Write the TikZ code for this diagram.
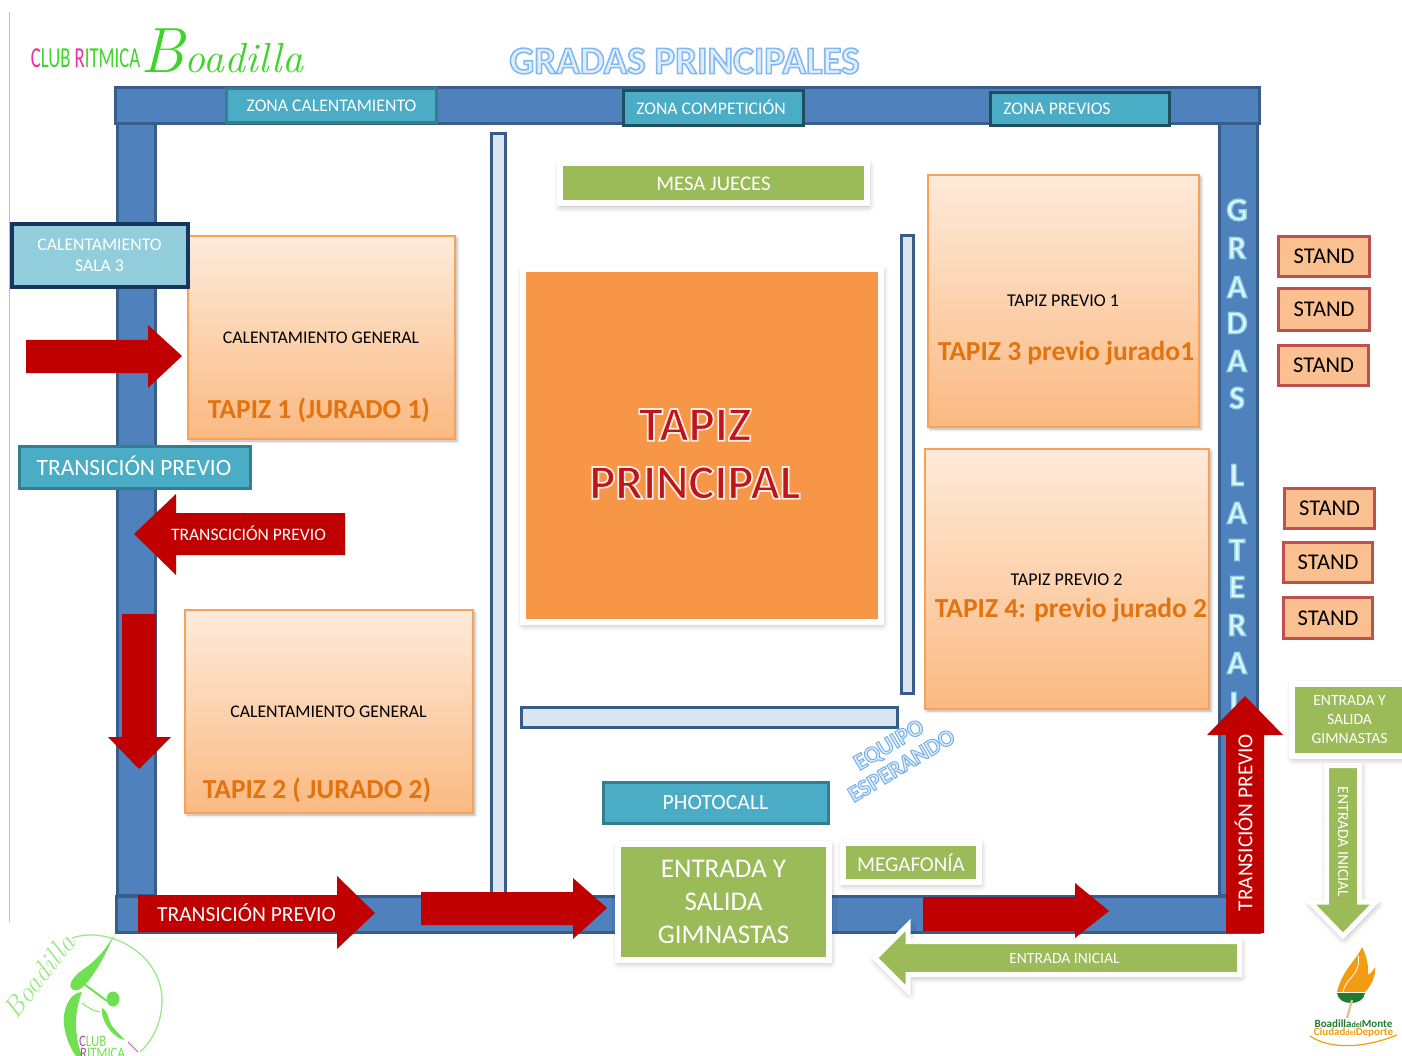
\documentclass[tikz,border=0pt]{standalone}
\usepackage{fontspec}
\setmainfont{Carlito}
\usetikzlibrary{shadows,shadows.blur}

\definecolor{barblue}{HTML}{4F81BD}
\definecolor{barline}{HTML}{385D8A}
\definecolor{barpale}{HTML}{DCE6F2}
\definecolor{zoneteal}{HTML}{4BACC6}
\definecolor{zoneline}{HTML}{357D91}
\definecolor{zonedark}{HTML}{1F4E5C}
\definecolor{salablue}{HTML}{92CDDC}
\definecolor{saladark}{HTML}{17365D}
\definecolor{gymgreen}{HTML}{9BBB59}
\definecolor{arrowred}{HTML}{C00000}
\definecolor{matorange}{HTML}{F79646}
\definecolor{matline}{HTML}{F9A257}
\definecolor{mattext}{HTML}{E3730F}
\definecolor{standfill}{HTML}{FAC090}
\definecolor{standline}{HTML}{C0504D}
\definecolor{logogreen}{HTML}{3FD42A}
\definecolor{logopale}{HTML}{6FE04F}
\definecolor{logopink}{HTML}{EE2FA0}
\definecolor{torchorange}{HTML}{F39C12}
\definecolor{torchgreen}{HTML}{1E7B34}

\newcommand{\txt}[1]{\fontsize{#1}{#1}\selectfont}
% outlined letters: fill colour, stroke colour, stroke weight, text
\newcommand{\outtxt}[4]{{\addfontfeature{FakeBold=#3}\special{pdf:bcolor [#1] [#2]}#4\special{pdf:ecolor}}}

\tikzset{
  softshadow/.style={blur shadow={shadow xshift=1pt,shadow yshift=-2.5pt,shadow blur radius=6.5pt,shadow opacity=35}},
  bar/.style={fill=barblue,draw=barline,line width=3pt},
  thinbar/.style={fill=barpale,draw=barline,line width=3pt},
  zonebox/.style={fill=zoneteal,draw=zoneline,line width=3pt,text=white,inner sep=0pt},
  framed/.style={fill=gymgreen,draw=white,line width=6pt,text=white,inner sep=0pt,align=center,softshadow},
  matbox/.style={top color=matline!22,bottom color=matline!75,draw=matline,line width=1.2pt,inner sep=0pt,
    blur shadow={shadow xshift=2pt,shadow yshift=-2pt,shadow blur radius=3pt,shadow opacity=30}},
  standbox/.style={fill=standfill,draw=standline,line width=3.5pt,inner sep=0pt,text=black,font=\txt{22.5}},
  redarrow/.style={fill=arrowred},
  greenarrow/.style={fill=gymgreen,draw=white,line width=5pt,line join=miter,softshadow},
  mattitle/.style={text=mattext,font=\txt{27.5}\bfseries,inner sep=0pt},
  matnote/.style={text=black,inner sep=0pt},
  redlabel/.style={text=white,inner sep=0pt},
}

\begin{document}
\begin{tikzpicture}[x=1pt,y=-1pt]
  \useasboundingbox (0,0) rectangle (1402,1056);
  \draw[black!25,line width=1pt] (9,12) -- (9,922);

  % logo top
  \node[inner sep=0pt,xscale=.645,transform shape,font=\txt{29}] (clubtop) at (85.5,58)
    {\textcolor{logopink}{C}\textcolor{logogreen}{LUB }\textcolor{logopink}{R}\textcolor{logogreen}{ITMICA}};
  \node[inner sep=0pt,text=logogreen] (boadillatop) at (222,51)
    {\fontspec{Latin Modern Roman}\itshape\txt{64}B\txt{42}oadilla};

  \node[inner sep=0pt] (gradasmain) at (684.5,61)
    {\txt{39}\bfseries\outtxt{.88 .93 1}{.5 .72 .95}{4}{GRADAS PRINCIPALES}};

  % bars
  \draw[bar] (117.5,124) rectangle (155.5,895);
  \draw[bar] (1219,124) rectangle (1257,895);
  \draw[bar] (115.5,88) rectangle (1259.5,124);
  \draw[bar] (116.5,896) rectangle (1259.5,932);
  \draw[thinbar] (491,134) rectangle (505,896);
  \draw[thinbar] (901,236) rectangle (913,693);
  \draw[thinbar] (521,707) rectangle (897,727);

  % gradas lateral
  \foreach \letra/\posy in {G/210,R/248,A/287,D/323,A/361,S/398,L/475,A/513,T/550,E/587,R/625,A/663,L/703}
    \node[inner sep=0pt] (grada\posy) at (1237,\posy)
      {\txt{33}\bfseries\outtxt{.88 .97 1}{.55 .82 .9}{4}{\letra}};

  % zones
  \node[zonebox,minimum width=210pt,minimum height=34pt,font=\txt{17.7}] (zonacal) at (331.5,105.5) {ZONA CALENTAMIENTO};
  \node[zonebox,draw=zonedark,minimum width=180pt,minimum height=35pt] (zonacomp) at (713.5,108) {};
  \node[inner sep=0pt,text=white,font=\txt{17.7}] (zonacomptxt) at (711,107) {ZONA COMPETICIÓN};
  \node[zonebox,draw=zonedark,minimum width=179pt,minimum height=33pt] (zonaprev) at (1080,109) {};
  \node[inner sep=0pt,text=white,font=\txt{17.7}] (zonaprevtxt) at (1057,108.5) {ZONA PREVIOS};

  % mats
  \node[matbox,minimum width=267pt,minimum height=203pt] (tapiz1) at (321.5,337.5) {};
  \node[matbox,minimum width=288pt,minimum height=203pt] (tapiz2) at (329,711.5) {};
  \node[matbox,minimum width=271pt,minimum height=252pt] (tapiz3) at (1063.5,301) {};
  \node[matbox,minimum width=284pt,minimum height=260pt] (tapiz4) at (1067,579) {};
  \node[matnote,font=\txt{17.8}] (gen1) at (321,338) {CALENTAMIENTO GENERAL};
  \node[mattitle] (name1) at (319,410) {TAPIZ 1 (JURADO 1)};
  \node[matnote,font=\txt{17.8}] (gen2) at (328.5,712) {CALENTAMIENTO GENERAL};
  \node[mattitle] (name2) at (317,790) {TAPIZ 2 ( JURADO 2)};
  \node[matnote,font=\txt{18}] (prev1) at (1063,300.5) {TAPIZ PREVIO 1};
  \node[mattitle] (name3) at (1066,353) {TAPIZ 3 previo jurado1};
  \node[matnote,font=\txt{18}] (prev2) at (1066.5,579.5) {TAPIZ PREVIO 2};
  \node[mattitle] (name4) at (1071,610) {TAPIZ 4: previo jurado 2};

  % main mat
  \node[framed,fill=matorange,minimum width=358pt,minimum height=353pt] (principal) at (702,445.5) {};
  \node[inner sep=0pt,align=center,font=\txt{49}\bfseries] (principaltxt) at (695,454) {%
    \outtxt{.75 .08 .1}{.97 .93 .9}{3.5}{TAPIZ}\\[9pt]
    \outtxt{.75 .08 .1}{.97 .93 .9}{3.5}{PRINCIPAL}};

  \node[framed,minimum width=307pt,minimum height=40pt,font=\txt{20.8}] (mesa) at (713.5,183.5) {MESA JUECES};

  % left side
  \node[zonebox,fill=salablue,draw=saladark,line width=4pt,minimum width=176pt,minimum height=63pt,align=center,font=\txt{17.7}] (sala3) at (99.5,255.5) {CALENTAMIENTO\\[3pt]SALA 3};
  \fill[redarrow] (26,340) -- (148,340) -- (148,325) -- (182,356) -- (148,388) -- (148,373) -- (26,373) -- cycle;
  \node[zonebox,minimum width=231pt,minimum height=42pt] (transzona) at (135,467.5) {};
  \node[inner sep=0pt,text=white,font=\txt{23.4}] (transzonatxt) at (134,466) {TRANSICIÓN PREVIO};
  \fill[redarrow] (345,513) -- (176,513) -- (176,494) -- (134,534) -- (176,575) -- (176,555) -- (345,555) -- cycle;
  \node[redlabel,font=\txt{17.5}] (transarrow) at (248.5,533) {TRANSCICIÓN PREVIO};
  \fill[redarrow] (122,614) -- (156,614) -- (156,737) -- (171,737) -- (139,769) -- (108,737) -- (122,737) -- cycle;

  % bottom
  \fill[redarrow] (138,895) -- (337,895) -- (337,876) -- (375,913) -- (337,949) -- (337,932) -- (138,932) -- cycle;
  \node[redlabel,font=\txt{21.5}] (transbottom) at (246.5,912.5) {TRANSICIÓN PREVIO};
  \fill[redarrow] (421,892) -- (573,892) -- (573,878) -- (607,908) -- (573,939) -- (573,925) -- (421,925) -- cycle;
  \fill[redarrow] (923,897) -- (1075,897) -- (1075,883) -- (1109,911) -- (1075,938) -- (1075,931) -- (923,931) -- cycle;
  \fill[redarrow] (1226,933) -- (1226,735) -- (1207,735) -- (1245,696) -- (1283,735) -- (1264,735) -- (1264,933) -- cycle;
  \node[redlabel,font=\txt{21.3},rotate=90] (transup) at (1243.5,822.5) {TRANSICIÓN PREVIO};

  \node[zonebox,minimum width=225pt,minimum height=41pt,font=\txt{21.8}] (photocall) at (715.5,802.5) {PHOTOCALL};
  \node[framed,minimum width=211pt,minimum height=116pt,font=\txt{27}] (entrada) at (723.5,902) {ENTRADA Y\\[6pt]SALIDA\\[6pt]GIMNASTAS};
  \node[framed,minimum width=136pt,minimum height=39pt,font=\txt{21}] (megafonia) at (911,862.5) {MEGAFONÍA};
  \node[inner sep=0pt,rotate=31,align=center,font=\txt{23.5}\bfseries] (equipo) at (895,755) {%
    \outtxt{.85 .92 1}{.45 .68 .9}{4}{EQUIPO}\\[1pt]
    \outtxt{.85 .92 1}{.45 .68 .9}{4}{ESPERANDO}};

  \draw[greenarrow] (1239.5,941.5) -- (908,941.5) -- (908,925) -- (875,958) -- (908,991) -- (908,974.5) -- (1239.5,974.5) -- cycle;
  \node[redlabel,font=\txt{15.6}] (inicialh) at (1064.5,958) {ENTRADA INICIAL};

  % right side
  \node[framed,minimum width=118pt,minimum height=72pt] (gimnastas) at (1351,720) {};
  \node[inner sep=0pt,text=white,align=center,font=\txt{15.6}] (gimnastastxt) at (1349.5,720) {ENTRADA Y\\[3.4pt]SALIDA\\[3.4pt]GIMNASTAS};
  \draw[greenarrow] (1326.5,765.5) -- (1359.5,765.5) -- (1359.5,902) -- (1376,902) -- (1343,936) -- (1310,902) -- (1326.5,902) -- cycle;
  \node[redlabel,font=\txt{15.6},rotate=-90] (inicialv) at (1343,842) {ENTRADA INICIAL};

  \node[standbox,minimum width=91pt,minimum height=40pt] (stand1) at (1324,256.5) {STAND};
  \node[standbox,minimum width=91pt,minimum height=42pt] (stand2) at (1324,309.5) {STAND};
  \node[standbox,minimum width=90pt,minimum height=40pt] (stand3) at (1323.5,365.5) {STAND};
  \node[standbox,minimum width=90pt,minimum height=40pt] (stand4) at (1329.5,508.5) {STAND};
  \node[standbox,minimum width=89pt,minimum height=40pt] (stand5) at (1328,562.5) {STAND};
  \node[standbox,minimum width=89pt,minimum height=41pt] (stand6) at (1328,618) {STAND};

  % logo bottom left
  \draw[logopale!70,line width=1.3pt] (72,938) .. controls (110,925) and (162,955) .. (162,1000)
    .. controls (162,1022) and (153,1040) .. (140,1052);
  \fill[logopale] (115,934) .. controls (105,950) and (98,958) .. (88,966) .. controls (76,974) and (68,982) .. (71,988)
    .. controls (76,994) and (84,988) .. (92,976) .. controls (102,962) and (108,948) .. (115,934) -- cycle;
  \fill[logopale] (82,992) .. controls (70,992) and (62,1010) .. (64,1025) .. controls (66,1038) and (70,1048) .. (76,1056)
    -- (82,1056) .. controls (74,1035) and (74,1012) .. (82,992) -- cycle;
  \fill[logopale] (102,1008) .. controls (108,1010) and (108,1020) .. (112,1026) .. controls (116,1031) and (120,1035) .. (125,1040)
    .. controls (116,1040) and (100,1022) .. (102,1008) -- cycle;
  \fill[logopale] (113,999) ellipse (6.5 and 7.5);
  \draw[logopale,line width=2pt] (84,984) -- (107,1001);
  \draw[logopale,line width=.8pt] (82,1003) .. controls (88,1008) and (94,1011) .. (100,1012);
  \draw[violet!60,line width=1pt] (128,1042) -- (138,1052);
  \node[inner sep=0pt,rotate=52,text=logopale!70] (boadillalow) at (39,976)
    {\fontspec{Latin Modern Roman}\itshape\txt{28}Boadilla};
  \node[inner sep=0pt,text=logopale,xscale=.8,transform shape,font=\txt{16},anchor=west] (clublow) at (79,1041)
    {\textcolor{violet!70}{C}LUB};
  \node[inner sep=0pt,text=logopale,xscale=.8,transform shape,font=\txt{16},anchor=west] (ritmicalow) at (80,1053)
    {\textcolor{violet!70}{R}ITMICA};

  % logo bottom right
  \fill[torchorange] (1362,947) .. controls (1358,958) and (1342,970) .. (1337,992) -- (1365,992)
    .. controls (1372,985) and (1376,975) .. (1375,967) .. controls (1372,972) and (1370,974) .. (1368,975)
    .. controls (1369,965) and (1366,955) .. (1362,947) -- cycle;
  \draw[white,line width=.8pt] (1343,992) .. controls (1345,978) and (1362,975) .. (1358,955);
  \fill[torchgreen] (1337,993) -- (1365,993) .. controls (1364,1000) and (1358,1003) .. (1351,1003) .. controls (1344,1003) and (1338,1000) .. (1337,993) -- cycle;
  \draw[black!30!yellow!40!brown!60,line width=2.2pt] (1352,1000) -- (1347,1018);
  \node[inner sep=0pt,text=torchgreen,font=\txt{11}\bfseries] (boadillaright) at (1353.5,1024) {Boadilla{\txt{8}del}Monte};
  \node[inner sep=0pt,text=torchorange,font=\txt{11}\bfseries] (ciudadright) at (1353.5,1032) {Ciudad{\txt{8}del}Deporte};
  \draw[torchorange,line width=1.2pt] (1310,1036) .. controls (1330,1050) and (1365,1048) .. (1397,1035);
\end{tikzpicture}
\end{document}
